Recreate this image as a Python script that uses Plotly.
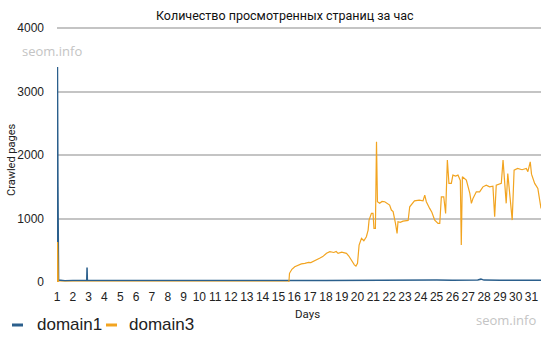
import plotly.graph_objects as go

title_text = "Количество просмотренных страниц за час"
y_title = "Crawled pages"
x_title = "Days"
watermark = "seom.info"
series_names = ["domain1", "domain3"]
x_ticks = list(range(1, 32))
y_ticks = [0, 1000, 2000, 3000, 4000]

# domain1 (blue) — day, value
d1_days = [1.0, 1.03, 1.06, 1.1, 1.2, 1.5, 2.0, 2.5, 2.88, 2.9, 2.92, 3.2, 4.0, 5.0, 6.0, 7.0,
           8.0, 9.0, 10.0, 11.0, 12.0, 13.0, 14.0, 15.0, 16.0, 17.0, 18.0, 19.0, 20.0,
           21.0, 22.0, 23.0, 24.0, 25.0, 26.0, 27.0, 27.6, 27.8, 28.0, 29.0, 30.0, 31.0, 31.6]
d1_vals = [0, 3390, 1500, 30, 25, 20, 22, 25, 25, 230, 25, 22, 20, 24, 22, 25,
           22, 26, 24, 22, 24, 22, 25, 22, 26, 24, 25, 27, 25,
           28, 26, 28, 27, 30, 28, 30, 32, 45, 30, 28, 30, 28, 27]

# domain3 (orange) — day, value
d3_days = [1.0, 1.04, 1.08, 15.6, 15.66, 15.7, 15.85, 16.03, 16.15, 16.3, 16.45, 16.67, 16.9,
           17.05, 17.19, 17.4, 17.6, 17.8, 17.95, 18.04, 18.25, 18.4, 18.5, 18.65, 18.77,
           19.0, 19.15, 19.3, 19.45, 19.6, 19.8, 19.9,
           20.0, 20.1, 20.25, 20.4, 20.56, 20.67, 20.73, 20.88, 20.98, 21.04, 21.13, 21.2,
           21.26, 21.4, 21.55, 21.72, 21.9, 22.03, 22.14, 22.25, 22.4, 22.5, 22.56, 22.7, 22.88,
           23.2, 23.3, 23.6, 23.9, 24.14, 24.25, 24.35, 24.56, 24.7, 24.88, 25.09, 25.2, 25.3,
           25.45, 25.57, 25.68, 25.78, 25.93, 26.03, 26.2, 26.35, 26.5, 26.56, 26.63, 26.88,
           27.1, 27.2, 27.3, 27.4, 27.51, 27.72, 27.93, 28.14, 28.35, 28.56, 28.67, 28.77,
           28.95, 29.09, 29.2, 29.3, 29.4, 29.5, 29.6, 29.78, 29.9, 30.12, 30.4, 30.67, 30.77,
           30.92, 31.0, 31.2, 31.4, 31.6]
d3_vals = [0, 630, 0, 0, 0, 137, 200, 240, 255, 265, 285, 295, 310,
           305, 320, 350, 373, 400, 430, 452, 477, 470, 465, 480, 452,
           470, 460, 452, 410, 346, 270, 252,
           295, 583, 688, 650, 714, 819, 976, 1082, 1082, 845, 845, 2210,
           1265, 1240, 1270, 1265, 1240, 1213, 1134, 1110, 924, 767, 950, 940, 960,
           970, 1186, 1280, 1290, 1280, 1370, 1265, 1160, 1100, 976, 924, 924, 1343,
           1343, 1082, 1921, 1554, 1554, 1685, 1670, 1685, 1600, 583, 1658, 1606,
           1397, 1240, 1318, 1380, 1422, 1422, 1500, 1527, 1500, 1510, 1028, 1527,
           1540, 1554, 1921, 1580, 1240, 1710, 1460, 976, 1764, 1790, 1770, 1790, 1740,
           1895, 1700, 1554, 1475, 1160]

BLUE = "#2b5f8c"
ORANGE = "#f2a420"
GRID = "#c4c4c4"

fig = go.Figure()
fig.add_trace(go.Scatter(x=d1_days, y=d1_vals, mode="lines", name=series_names[0],
                         line=dict(color=BLUE, width=1.5), showlegend=False))
fig.add_trace(go.Scatter(x=d3_days, y=d3_vals, mode="lines", name=series_names[1],
                         line=dict(color=ORANGE, width=1.2), showlegend=False))

L, R, T, B = 57, 11, 20, 56
W, H = 552, 338
pw, ph = W - L - R, H - T - B

def px(x):
    return (x - L) / pw

def py(y):
    return (H - B - y) / ph

fig.update_layout(
    width=W, height=H,
    margin=dict(l=L, r=R, t=T, b=B),
    plot_bgcolor="white", paper_bgcolor="white",
    font=dict(family="Liberation Sans, Arial, sans-serif", size=12, color="#222"),
    xaxis=dict(range=[1, 31.6], tickvals=x_ticks, ticktext=[str(v) for v in x_ticks],
               showgrid=False, zeroline=False, showline=False, ticks="",
               ticklabelstandoff=6, tickfont=dict(size=12, color="#222")),
    yaxis=dict(range=[0, 4130], tickvals=y_ticks, showgrid=True, gridcolor=GRID,
               gridwidth=1.5, zeroline=False, showline=False, ticks="",
               ticklabelstandoff=12, tickfont=dict(size=12, color="#222")),
)

ann = [
    dict(text=title_text, x=px(285), y=py(16), xanchor="center", yanchor="middle",
         font=dict(family="Roboto, sans-serif", size=12.5, color="#111"), showarrow=False),
    dict(text=y_title, x=px(11), y=py(160), xanchor="center", yanchor="middle", textangle=-90,
         font=dict(family="Roboto, sans-serif", size=11, color="#222"), showarrow=False),
    dict(text=x_title, x=px(307), y=py(314), xanchor="center", yanchor="middle",
         font=dict(family="Roboto, sans-serif", size=11.5, color="#222"), showarrow=False),
    dict(text=watermark, x=px(20), y=py(51), xanchor="left", yanchor="middle",
         font=dict(family="Open Sans, sans-serif", size=13, color="#c4c4c4"), showarrow=False),
    dict(text=watermark, x=px(474), y=py(320), xanchor="left", yanchor="middle",
         font=dict(family="Open Sans, sans-serif", size=13, color="#c4c4c4"), showarrow=False),
    dict(text=series_names[0], x=px(35), y=py(325), xanchor="left", yanchor="middle",
         font=dict(family="Liberation Sans, Arial, sans-serif", size=17, color="#222"), showarrow=False),
    dict(text=series_names[1], x=px(127), y=py(325), xanchor="left", yanchor="middle",
         font=dict(family="Liberation Sans, Arial, sans-serif", size=17, color="#222"), showarrow=False),
]
for a in ann:
    a["xref"] = "paper"
    a["yref"] = "paper"
fig.update_layout(annotations=ann)

# top gridline drawn explicitly above everything
fig.add_shape(type="line", xref="paper", yref="y", x0=0, x1=1, y0=y_ticks[-1], y1=y_ticks[-1],
              line=dict(color=GRID, width=1.5), layer="above")

fig.add_shape(type="line", xref="paper", yref="paper", x0=px(12), x1=px(23), y0=py(325), y1=py(325),
              line=dict(color=BLUE, width=3))
fig.add_shape(type="line", xref="paper", yref="paper", x0=px(106), x1=px(117), y0=py(325), y1=py(325),
              line=dict(color=ORANGE, width=3))

fig.write_html("out.html")
